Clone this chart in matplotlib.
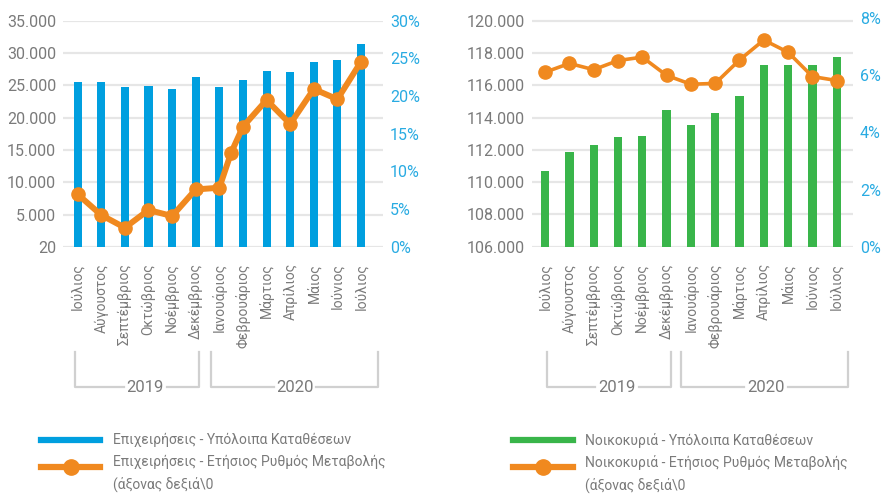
import matplotlib
matplotlib.use("Agg")
import matplotlib.pyplot as plt
from matplotlib.lines import Line2D
import matplotlib.transforms as mtransforms

plt.rcParams['font.family'] = ['Roboto', 'DejaVu Sans']

# ------------------ DATA ------------------
months = ["Ιούλιος", "Αύγουστος", "Σεπτέμβριος", "Οκτώβριος", "Νοέμβριος", "Δεκέμβριος",
          "Ιανουάριος", "Φεβρουάριος", "Μάρτιος", "Απρίλιος", "Μάιος", "Ιούνιος", "Ιούλιος"]
years = ["2019", "2020"]

biz_deposits = [25550, 25500, 24730, 24890, 24420, 26280, 24730,
                25820, 27210, 27060, 28600, 28910, 31440]
# growth line has one extra point between Jan and Feb
biz_rate_pos = [0, 1, 2, 3, 4, 5, 6, 6.5, 7, 8, 9, 10, 11, 12]
biz_rate = [6.96, 4.2, 2.52, 4.87, 4.07, 7.6, 7.83, 12.48, 15.93, 19.47, 16.29, 20.93, 19.57, 24.56]

hh_deposits = [110700, 111890, 112270, 112770, 112850, 114470, 113530,
               114280, 115350, 117230, 117230, 117230, 117740]
hh_rate = [6.11, 6.42, 6.20, 6.52, 6.64, 6.00, 5.69, 5.72, 6.54, 7.24, 6.81, 5.96, 5.82]

biz_yticks = [20, 5000, 10000, 15000, 20000, 25000, 30000, 35000]
biz_ylabels = ["20", "5.000", "10.000", "15.000", "20.000", "25.000", "30.000", "35.000"]
biz_rticks = [0, 5, 10, 15, 20, 25, 30]
hh_yticks = [106000, 108000, 110000, 112000, 114000, 116000, 118000, 120000]
hh_ylabels = ["106.000", "108.000", "110.000", "112.000", "114.000", "116.000", "118.000", "120.000"]
hh_rticks = [0, 2, 4, 6, 8]

legend_biz = ["Επιχειρήσεις - Υπόλοιπα Καταθέσεων",
              "Επιχειρήσεις - Ετήσιος Ρυθμός Μεταβολής\n(άξονας δεξιά\\0"]
legend_hh = ["Νοικοκυριά - Υπόλοιπα Καταθέσεων",
             "Νοικοκυριά - Ετήσιος Ρυθμός Μεταβολής\n(άξονας δεξιά\\0"]
# ------------------------------------------

BLUE = "#009FDF"
GREEN = "#39B54A"
ORANGE = "#F0891F"
RBLUE = "#29ABE2"
GRAY = "#7a7a7a"
GRID = "#e6e6e6"
BRACKET = "#d0d0d0"

W, H = 894, 497
fig = plt.figure(figsize=(W / 100, H / 100), dpi=100)


def px_axes(x0, y0, x1, y1):
    return fig.add_axes([x0 / W, 1 - y1 / H, (x1 - x0) / W, (y1 - y0) / H])


def style(ax, ax2):
    for a in (ax, ax2):
        for s in a.spines.values():
            s.set_visible(False)
    ax.tick_params(axis="y", length=0, pad=5, labelsize=11.5, labelcolor=GRAY)
    ax2.tick_params(axis="y", length=0, pad=5, labelsize=11.5, labelcolor=RBLUE)
    ax.tick_params(axis="x", length=0, pad=12, labelsize=10, labelcolor=GRAY)
    ax.yaxis.grid(True, color=GRID, lw=1.6)
    ax.set_axisbelow(True)
    ax.set_xticks(range(len(months)))
    ax.set_xticklabels(months, rotation=90)


def brackets(ax, spans, label_x):
    tr = mtransforms.blended_transform_factory(ax.transData, fig.transFigure)
    ytop = 1 - 352 / H
    ybot = 1 - 387 / H
    for (x0, x1), lx, yr in zip(spans, label_x, years):
        ax.add_line(Line2D([x0, x0, lx - 0.9], [ytop, ybot, ybot], transform=tr,
                           color=BRACKET, lw=1.6, clip_on=False))
        ax.add_line(Line2D([lx + 0.9, x1, x1], [ybot, ybot, ytop], transform=tr,
                           color=BRACKET, lw=1.6, clip_on=False))
        ax.text(lx, ybot, yr, transform=tr, ha="center", va="center",
                fontsize=12, color=GRAY)


# ---- left chart: businesses ----
ax = px_axes(63, 20.7, 383, 246.7)
ax2 = ax.twinx()
ax.bar(range(len(months)), biz_deposits, width=0.34, color=BLUE, zorder=2)
ax2.plot(biz_rate_pos, biz_rate, color=ORANGE, lw=4.3, marker="o", ms=9.5, zorder=3)
ax.set_ylim(20, 35000)
ax.set_yticks(biz_yticks)
ax.set_yticklabels(biz_ylabels)
ax2.set_ylim(0, 30)
ax2.set_yticks(biz_rticks)
ax2.set_yticklabels([f"{t}%" for t in biz_rticks])
ax.set_xlim(-0.62, 12.93)
style(ax, ax2)
brackets(ax, [(-0.12, 5.15), (5.65, 12.72)], [2.87, 9.2])

# ---- right chart: households ----
bx = px_axes(531.7, 18.3, 853, 246.7)
bx2 = bx.twinx()
bx.bar(range(len(months)), hh_deposits, width=0.34, color=GREEN, zorder=2)
bx2.plot(range(len(months)), hh_rate, color=ORANGE, lw=2.6, marker="o", ms=9.5, zorder=3)
bx.set_ylim(106000, 120150)
bx.set_yticks(hh_yticks)
bx.set_yticklabels(hh_ylabels)
bx2.set_ylim(0, 8)
bx2.set_yticks(hh_rticks)
bx2.set_yticklabels([f"{t}%" for t in hh_rticks])
bx.set_xlim(-0.55, 12.67)
style(bx, bx2)
brackets(bx, [(0.07, 5.18), (5.6, 12.45)], [2.95, 9.1])


# ---- legends ----
def legend(x0, x1, tx, labels, bar_color):
    y1 = 1 - 440 / H
    y2 = 1 - 467 / H
    fig.add_artist(Line2D([x0 / W, x1 / W], [y1, y1], color=bar_color, lw=4.5))
    fig.add_artist(Line2D([x0 / W, x1 / W], [y2, y2], color=ORANGE, lw=4.5))
    fig.add_artist(Line2D([(x0 + x1) / 2 / W], [y2], color=ORANGE, marker="o", ms=11))
    fig.text(tx / W, y1, labels[0], ha="left", va="center", fontsize=10,
             color=GRAY)
    fig.text(tx / W, y2 + 0.024, labels[1], ha="left", va="top", fontsize=10,
             color=GRAY, linespacing=1.6)


legend(41, 100, 113, legend_biz, BLUE)
legend(513, 573, 585, legend_hh, GREEN)

fig.savefig("out.png", dpi=100)
